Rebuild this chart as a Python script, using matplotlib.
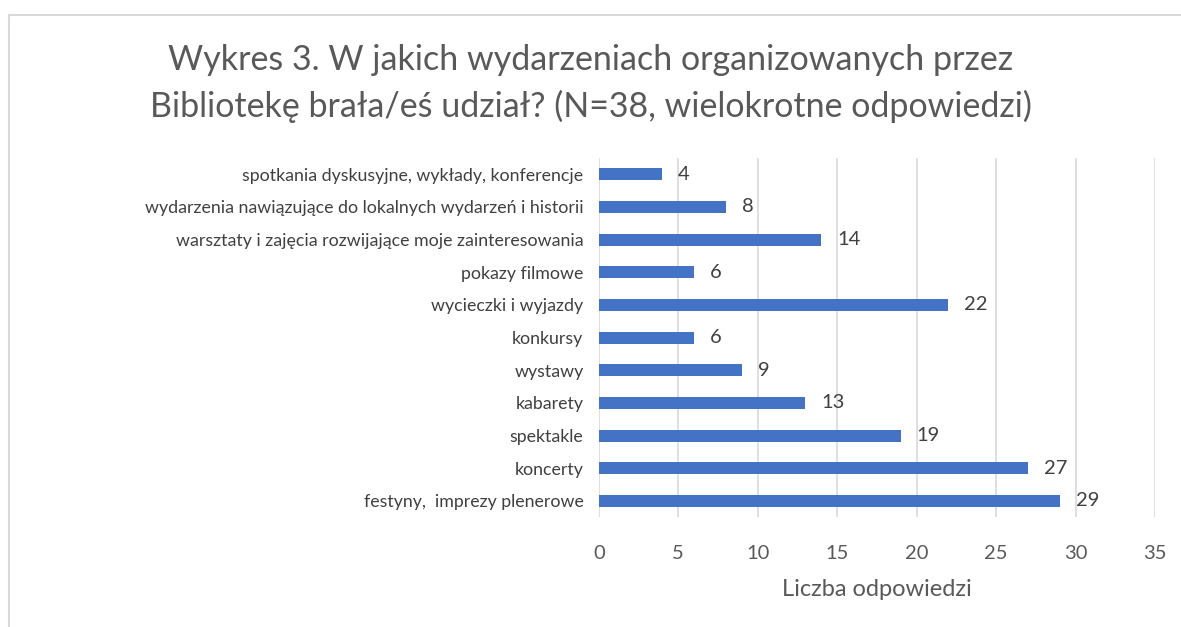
import matplotlib.pyplot as plt
from matplotlib.lines import Line2D

# dane z wykresu (od dołu do góry)
kategorie = [
    "festyny,  imprezy plenerowe",
    "koncerty",
    "spektakle",
    "kabarety",
    "wystawy",
    "konkursy",
    "wycieczki i wyjazdy",
    "pokazy filmowe",
    "warsztaty i zajęcia rozwijające moje zainteresowania",
    "wydarzenia nawiązujące do lokalnych wydarzeń i historii",
    "spotkania dyskusyjne, wykłady, konferencje",
]
odpowiedzi = [29, 27, 19, 13, 9, 6, 22, 6, 14, 8, 4]
ticki = [0, 5, 10, 15, 20, 25, 30, 35]

tytul = "Wykres 3. W jakich wydarzeniach organizowanych przez\nBibliotekę brała/eś udział? (N=38, wielokrotne odpowiedzi)"

plt.rcParams['font.family'] = ['Lato', 'DejaVu Sans']
szary = "#595959"

fig = plt.figure(figsize=(11.81, 6.27), dpi=100)
ax = fig.add_axes([0.507, 0.175, 0.471, 0.573])

y = list(range(len(kategorie)))
ax.barh(y, odpowiedzi, height=0.37, color="#4472C4", zorder=3)
for yi, v in zip(y, odpowiedzi):
    ax.text(v + 1.0, yi, str(v), va="center", ha="left", fontsize=14.5, color="#404040")

ax.set_xlim(0, 35)
ax.set_ylim(-0.5, len(kategorie) - 0.5)
ax.set_xticks(ticks=ticki)
ax.set_yticks(y)
ax.set_yticklabels(kategorie, fontsize=12.8, color="#404040")
ax.tick_params(axis="x", labelsize=14.5, labelcolor=szary, length=0, pad=20)
ax.tick_params(axis="y", length=0, pad=11)
ax.grid(axis="x", color="#d9d9d9", linewidth=1.2, zorder=0)
for s in ax.spines.values():
    s.set_visible(False)
ax.set_xlabel("Liczba odpowiedzi", fontsize=17, color=szary, labelpad=12)

fig.text(0.5, 0.867, tytul, ha="center", va="center", fontsize=24.5, color=szary, linespacing=1.5)

# ramka wykresu
fig.add_artist(Line2D([9.5 / 1181, 9.5 / 1181], [0, 1 - 14.5 / 627], transform=fig.transFigure, color="#d9d9d9", lw=1.5))
fig.add_artist(Line2D([9.5 / 1181, 1], [1 - 14.5 / 627, 1 - 14.5 / 627], transform=fig.transFigure, color="#d9d9d9", lw=1.5))

fig.savefig("out.png", dpi=100)
